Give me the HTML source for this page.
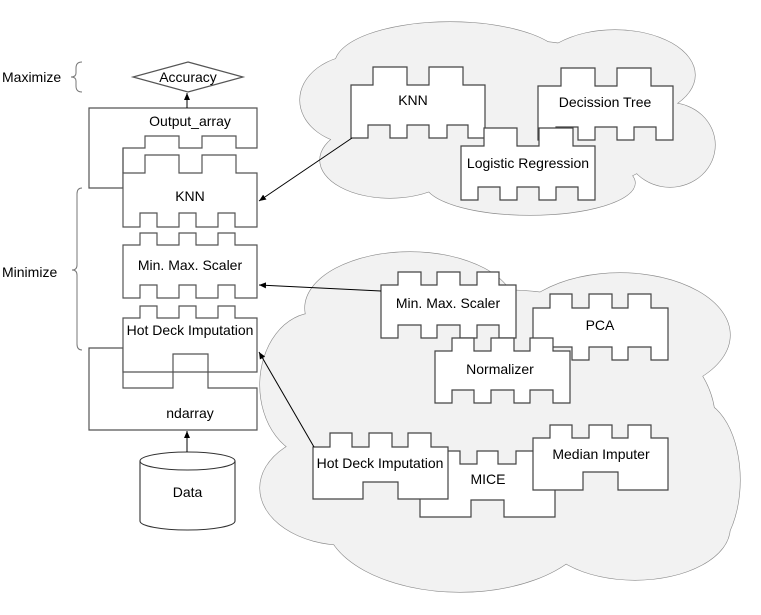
<!DOCTYPE html>
<html><head><meta charset="utf-8"><style>
html,body{margin:0;padding:0;background:#fff;}
svg{display:block;font-family:"Liberation Sans",Arial,sans-serif;font-size:14px;}
</style></head><body>
<svg width="761" height="615" viewBox="0 0 761 615" xmlns="http://www.w3.org/2000/svg">
<defs><marker id="a" markerWidth="8" markerHeight="8" refX="7" refY="4" orient="auto" markerUnits="userSpaceOnUse"><path d="M0,1 L7,4 L0,7 Z" fill="#000"/></marker></defs>
<g stroke="#888" stroke-width="1.2" fill="#f2f2f2">
<ellipse cx="510" cy="120" rx="170" ry="80"/><ellipse cx="360" cy="100" rx="60" ry="45"/><ellipse cx="450" cy="64" rx="115" ry="42"/><ellipse cx="615" cy="75" rx="80" ry="45"/><ellipse cx="670" cy="145" rx="45" ry="42"/><ellipse cx="530" cy="183" rx="105" ry="32"/><ellipse cx="390" cy="160" rx="70" ry="38"/>
</g>
<g fill="#f2f2f2">
<ellipse cx="510" cy="120" rx="170" ry="80"/><ellipse cx="360" cy="100" rx="60" ry="45"/><ellipse cx="450" cy="64" rx="115" ry="42"/><ellipse cx="615" cy="75" rx="80" ry="45"/><ellipse cx="670" cy="145" rx="45" ry="42"/><ellipse cx="530" cy="183" rx="105" ry="32"/><ellipse cx="390" cy="160" rx="70" ry="38"/>
</g>
<g stroke="#888" stroke-width="1.2" fill="#f2f2f2">
<ellipse cx="500" cy="420" rx="215" ry="130"/><ellipse cx="410" cy="308" rx="105" ry="56"/><ellipse cx="620" cy="335" rx="110" ry="62"/><ellipse cx="695" cy="480" rx="45" ry="80"/><ellipse cx="460" cy="518" rx="135" ry="74"/><ellipse cx="315" cy="385" rx="55" ry="72"/><ellipse cx="345" cy="488" rx="85" ry="57"/><ellipse cx="635" cy="528" rx="95" ry="52"/>
</g>
<g fill="#f2f2f2">
<ellipse cx="500" cy="420" rx="215" ry="130"/><ellipse cx="410" cy="308" rx="105" ry="56"/><ellipse cx="620" cy="335" rx="110" ry="62"/><ellipse cx="695" cy="480" rx="45" ry="80"/><ellipse cx="460" cy="518" rx="135" ry="74"/><ellipse cx="315" cy="385" rx="55" ry="72"/><ellipse cx="345" cy="488" rx="85" ry="57"/><ellipse cx="635" cy="528" rx="95" ry="52"/>
</g>
<g stroke="#444" stroke-width="1.2" fill="#fff">
<path d="M351 85 H373 V67 H407 V85 H429 V67 H463 V85 H485 V138 H468 V125 H447 V138 H429 V125 H407 V138 H390 V125 H368 V138 H351 Z"/>
<path d="M538 86 H561 V68 H595 V86 H617 V68 H651 V86 H673 V140 H656 V127 H634 V140 H617 V127 H595 V140 H578 V127 H556 V140 H538 Z"/>
<path d="M461 146 H484 V128 H517 V146 H539 V128 H573 V146 H595 V200 H578 V187 H556 V200 H539 V187 H517 V200 H500 V187 H478 V200 H461 Z"/>
<path d="M381 285 H398 V272 H421 V285 H437 V272 H460 V285 H477 V272 H499 V285 H516 V338 H499 V325 H477 V338 H460 V325 H437 V338 H421 V325 H398 V338 H381 Z"/>
<path d="M533 308 H550 V294 H572 V308 H589 V294 H612 V308 H628 V294 H651 V308 H668 V360 H651 V347 H628 V360 H612 V347 H589 V360 H572 V347 H550 V360 H533 Z"/>
<path d="M435 351 H452 V338 H474 V351 H491 V338 H514 V351 H530 V338 H553 V351 H570 V403 H553 V390 H530 V403 H514 V390 H491 V403 H474 V390 H452 V403 H435 Z"/>
<path d="M420 464 H439 V451 H460 V464 H477 V451 H498 V464 H516 V451 H538 V464 H555 V517 H504 V500 H471 V517 H420 Z"/>
<path d="M533 438 H550 V425 H572 V438 H589 V425 H612 V438 H628 V425 H651 V438 H668 V490 H618 V472 H583 V490 H533 Z"/>
<path d="M313 447 H330 V433 H352 V447 H369 V433 H392 V447 H408 V433 H431 V447 H448 V499 H398 V482 H363 V499 H313 Z"/>
</g>
<g stroke="#555" stroke-width="1.2" fill="#fff">
<path d="M89 108 H257 V148 H236 V136 H202 V148 H179 V136 H145 V148 H123 V188 H89 Z"/>
<path d="M123 173 H145 V155 H179 V173 H202 V155 H236 V173 H257 V227 H235 V213 H218 V227 H196 V213 H179 V227 H157 V213 H140 V227 H123 Z"/>
<path d="M123 148 V173" fill="none"/>
<path d="M123 245 H140 V233 H157 V245 H179 V233 H196 V245 H218 V233 H235 V245 H257 V298 H235 V285 H218 V298 H196 V285 H179 V298 H157 V285 H140 V298 H123 Z"/>
<path d="M89 348 H123 V388 H173 V372 H208 V388 H257 V430 H89 Z"/>
<path d="M123 318 H140 V306 H157 V318 H179 V306 H196 V318 H218 V306 H235 V318 H257 V372 H208 V354 H173 V372 H123 Z"/>
<path d="M188 62 L243 77 L188 92 L133 77 Z"/>
</g>
<g stroke="#333" stroke-width="1.1" fill="#fff">
<path d="M140 461 V521 A47.5 9 0 0 0 235 521 V461"/>
<ellipse cx="187.5" cy="461" rx="47.5" ry="9"/>
</g>
<g stroke="#777" stroke-width="1" fill="none">
<path d="M82 62 Q76 62 76 68 V73 Q76 77 71 77 Q76 77 76 81 V86 Q76 92 82 92"/>
<path d="M82 188 Q77 188 77 194 V265 Q77 270 72 270 Q77 270 77 275 V344 Q77 350 82 350"/>
</g>
<g stroke="#000" stroke-width="1" fill="none" marker-end="url(#a)">
<path d="M187 108 V93"/>
<path d="M187 452 V431"/>
<path d="M352 138 L259 201"/>
<path d="M381 291 L259 285"/>
<path d="M314 447 L259 352"/>
</g>
<g fill="#000" text-anchor="middle">
<text x="188" y="82">Accuracy</text>
<text x="190" y="126">Output_array</text>
<text x="190" y="201">KNN</text>
<text x="190" y="270">Min. Max. Scaler</text>
<text x="190" y="335">Hot Deck Imputation</text>
<text x="190" y="418">ndarray</text>
<text x="187.5" y="497">Data</text>
<text x="413" y="105">KNN</text>
<text x="605" y="107">Decission Tree</text>
<text x="528" y="168">Logistic Regression</text>
<text x="448" y="308">Min. Max. Scaler</text>
<text x="600" y="330">PCA</text>
<text x="500" y="374">Normalizer</text>
<text x="380" y="468">Hot Deck Imputation</text>
<text x="488" y="484">MICE</text>
<text x="601" y="459">Median Imputer</text>
</g>
<g fill="#000">
<text x="2" y="82">Maximize</text>
<text x="2" y="277">Minimize</text>
</g>
</svg>
</body></html>
